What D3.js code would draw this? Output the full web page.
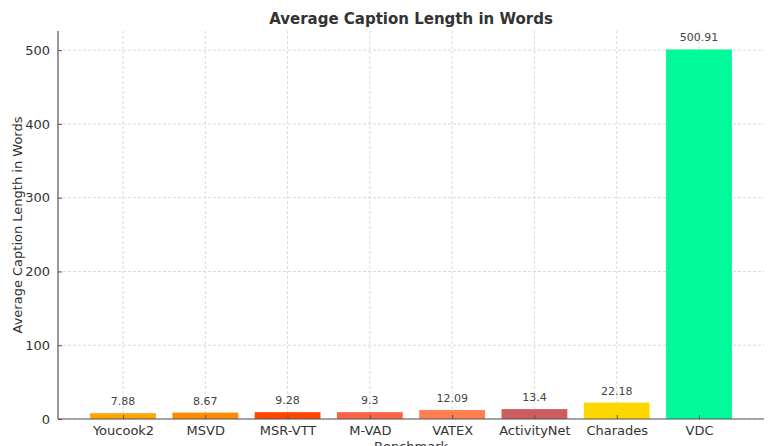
<!DOCTYPE html>
<html><head><meta charset="utf-8">
<script src="https://cdn.jsdelivr.net/npm/d3@7"></script>
<style>body{margin:0;background:#fff;} svg{display:block;font-family:"DejaVu Sans",sans-serif;}</style>
</head><body>
<svg id="chart" width="768" height="446"></svg>
<script>
const categories = ["Youcook2","MSVD","MSR-VTT","M-VAD","VATEX","ActivityNet","Charades","VDC"];
const values = [7.88, 8.67, 9.28, 9.3, 12.09, 13.4, 22.18, 500.91];
const colors = ["#FFA500","#FF8C00","#FF4500","#FF6347","#FF7F50","#CD5C5C","#FFD700","#00FA9A"];
const yTicks = [0, 100, 200, 300, 400, 500];
const valueLabels = ["7.88","8.67","9.28","9.3","12.09","13.4","22.18","500.91"];

(function(){
const svg = d3.select("#chart");
const mL = 58, mR = 764, mT = 31, mB = 419;

const n = categories.length;
const x = d3.scaleLinear().domain([-0.79, n - 1 + 0.79]).range([mL, mR]);
const bw = x(0.4) - x(-0.4);
const y = d3.scaleLinear().domain([0, 500.91 * 1.05]).range([mB, mT]);

// grid
const grid = svg.append("g");
grid.selectAll("line.h").data(yTicks).join("line")
  .attr("x1", mL).attr("x2", mR)
  .attr("y1", d => y(d)).attr("y2", d => y(d))
  .attr("stroke", "#d0d0d0").attr("stroke-width", 0.8).attr("stroke-dasharray", "3,2");
grid.selectAll("line.v").data(categories).join("line")
  .attr("x1", (d,i) => x(i)).attr("x2", (d,i) => x(i))
  .attr("y1", mT).attr("y2", mB)
  .attr("stroke", "#d0d0d0").attr("stroke-width", 0.8).attr("stroke-dasharray", "3,2");

// bars
svg.append("g").selectAll("rect").data(values).join("rect")
  .attr("x", (d,i) => x(i) - bw/2).attr("width", bw)
  .attr("y", d => y(d)).attr("height", d => mB - y(d))
  .attr("fill", (d,i) => colors[i]);

// value labels
svg.append("g").selectAll("text").data(values).join("text")
  .attr("x", (d,i) => x(i)).attr("y", d => y(d) - 8)
  .attr("text-anchor", "middle").attr("font-size", 11).attr("fill", "#444")
  .text((d,i) => valueLabels[i]);

// axes
const yAxis = d3.axisLeft(y).tickValues(yTicks).tickSizeInner(-4).tickSizeOuter(0).tickPadding(8);
const gy = svg.append("g").attr("transform", `translate(${mL},0)`).call(yAxis);
gy.select(".domain").attr("stroke", "#555").attr("stroke-width", 1.2).attr("d", `M0,${mT}V${mB}`);
gy.selectAll(".tick line").attr("stroke", "#555");
gy.selectAll(".tick text").attr("font-size", 13).attr("fill", "#333").attr("font-family", "DejaVu Sans");

const xAxis = d3.axisBottom(x).tickValues(d3.range(n)).tickFormat(i => categories[i]).tickSizeInner(-4).tickSizeOuter(0).tickPadding(7);
const gx = svg.append("g").attr("transform", `translate(0,${mB})`).call(xAxis);
gx.select(".domain").attr("stroke", "#555").attr("stroke-width", 1.2).attr("d", `M${mL},0H${mR}`);
gx.selectAll(".tick line").attr("stroke", "#555");
gx.selectAll(".tick text").attr("font-size", 13).attr("fill", "#333").attr("font-family", "DejaVu Sans");

// labels
svg.append("text").attr("x", 411).attr("y", 24)
  .attr("text-anchor", "middle").attr("font-size", 15).attr("font-weight", "bold").attr("fill", "#333")
  .text("Average Caption Length in Words");
svg.append("text").attr("transform", `translate(22,${(mT+mB)/2}) rotate(-90)`)
  .attr("text-anchor", "middle").attr("font-size", 13).attr("fill", "#333")
  .text("Average Caption Length in Words");
svg.append("text").attr("x", 411).attr("y", 451)
  .attr("text-anchor", "middle").attr("font-size", 13).attr("fill", "#333")
  .text("Benchmark");
})();
</script>
</body></html>
